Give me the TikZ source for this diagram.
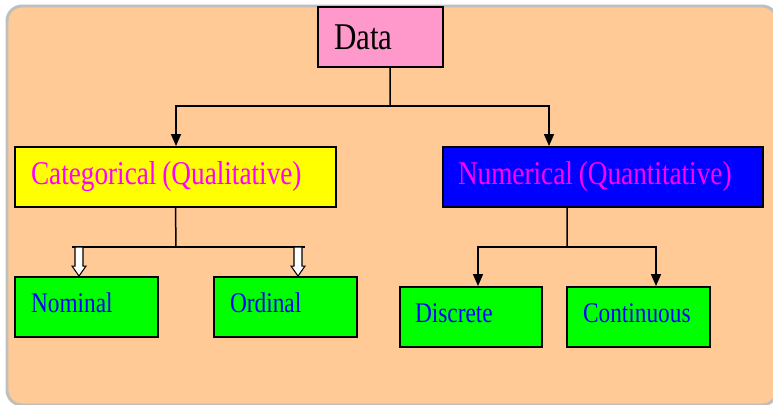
\documentclass[tikz,border=0pt]{standalone}
\usepackage{fontspec}
\setmainfont{Liberation Serif}[FakeStretch=0.82]
\usepackage{tikz}
\usetikzlibrary{arrows.meta}
\definecolor{peachBg}{HTML}{FFCA96}
\definecolor{pinkBox}{HTML}{FF99CC}
\definecolor{brightGreen}{HTML}{00FF00}
\definecolor{brightYellow}{HTML}{FFFF00}
\definecolor{pureBlue}{HTML}{0000FF}
\definecolor{pureMagenta}{HTML}{FF00FF}

\tikzset{
  box/.style={draw, line width=1.1pt, minimum height=1.2cm, inner xsep=0.32cm, align=left},
  leaf/.style={box, fill=brightGreen, text=pureBlue, text depth=0.16cm},
  link/.style={line width=0.85pt},
  arr/.style={link, -{Triangle[length=0.24cm,width=0.2cm]}},
  hollow/.style={draw, line width=0.6pt, fill=white}
}

\begin{document}
\begin{tikzpicture}[x=0.02cm, y=-0.02cm]
 	\useasboundingbox (0,0) rectangle (773,405);
 	\draw[line width=1.7pt, draw=black!25, fill=peachBg, rounded corners=0.3cm] (7,6) rectangle (777,405);
 	% boxes
 	\node[box, fill=pinkBox, text width=1.86cm, inner xsep=0.32cm] (data) at (380.5,37) {\fontsize{21.5}{24}\selectfont Data};
 	\node[box, fill=brightYellow, text width=5.78cm, text=pureMagenta] (cat) at (175.5,177) {\fontsize{18.9}{22}\selectfont Categorical (Qualitative)};
 	\node[box, fill=pureBlue, text width=5.8cm, inner xsep=0.3cm, text=pureMagenta] (num) at (603,177) {\fontsize{18.9}{22}\selectfont Numerical (Quantitative)};
 	\node[leaf, text width=2.22cm] (nom) at (86.5,307) {\fontsize{16.2}{19}\selectfont Nominal};
 	\node[leaf, text width=2.22cm] (ord) at (285.5,307) {\fontsize{16.2}{19}\selectfont Ordinal};
 	\node[leaf, text width=2.24cm, inner xsep=0.3cm] (dis) at (471,317) {\fontsize{16.2}{19}\selectfont Discrete};
 	\node[leaf, text width=2.22cm] (con) at (638.5,317) {\fontsize{16.2}{19}\selectfont Continuous};
 	% data -> cat, num
 	\coordinate (j1) at (390,106);
 	\draw[link] ([xshift=0.19cm]data.south) -- (j1);
 	\draw[arr] (j1) -| ([xshift=0.01cm]cat.north);
 	\draw[arr] (j1) -| ([xshift=-1.08cm]num.north);
 	% cat -> nom, ord
 	\coordinate (j2) at (176,247);
 	\draw[link] (cat.south) -- (j2);
 	\draw[link] (72,247) -- (305,247);
 	\draw[hollow] ([xshift=-0.15cm]nom.north) -- ++(-7,-10) -- ++(3,0) -- ++(0,-19) -- ++(8,0) -- ++(0,19) -- ++(3,0) -- cycle;
 	\draw[hollow] ([xshift=0.25cm]ord.north) -- ++(-7,-10) -- ++(3,0) -- ++(0,-19) -- ++(8,0) -- ++(0,19) -- ++(3,0) -- cycle;
 	% num -> dis, con
 	\coordinate (j3) at (567,247);
 	\draw[link] ([xshift=-0.72cm]num.south) -- (j3);
 	\draw[arr] (j3) -| ([xshift=0.14cm]dis.north);
 	\draw[arr] (j3) -| ([xshift=0.35cm]con.north);
\end{tikzpicture}
\end{document}
